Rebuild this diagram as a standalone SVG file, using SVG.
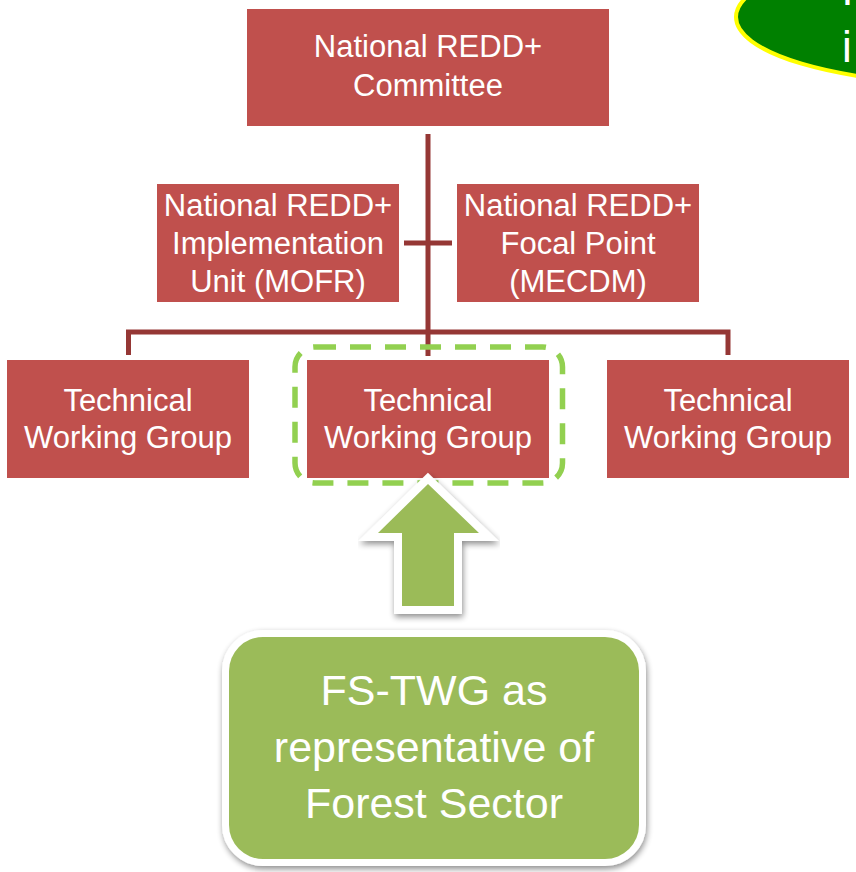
<svg xmlns="http://www.w3.org/2000/svg" width="856" height="872" viewBox="0 0 856 872">
  <defs>
    <style>
      .box { fill: #C0504D; }
      .lbl { font-family: "Liberation Sans", Arial, sans-serif; font-size: 31px; fill: #FFFFFF; text-anchor: middle; }
      .big { font-family: "Liberation Sans", Arial, sans-serif; font-size: 43px; fill: #FFFFFF; text-anchor: middle; }
      .conn { stroke: #953735; stroke-width: 5; fill: none; }
    </style>
    <filter id="shadow" x="-20%" y="-20%" width="140%" height="140%">
      <feGaussianBlur in="SourceAlpha" stdDeviation="3"/>
      <feOffset dx="1" dy="3" result="b"/>
      <feComponentTransfer><feFuncA type="linear" slope="0.45"/></feComponentTransfer>
      <feMerge><feMergeNode/><feMergeNode in="SourceGraphic"/></feMerge>
    </filter>
  </defs>
  <rect width="856" height="872" fill="#FFFFFF"/>

  <g id="callout-ellipse">
    <ellipse cx="960" cy="17" rx="224" ry="66" fill="#008000" stroke="#FFFF00" stroke-width="4"/>
    <text x="834" y="5" font-family="Liberation Sans, Arial, sans-serif" font-size="44" fill="#FFFFFF">T</text>
    <text x="842" y="62" font-family="Liberation Sans, Arial, sans-serif" font-size="44" fill="#FFFFFF">i</text>
  </g>

  <g id="connectors">
    <line class="conn" x1="428" y1="134" x2="428" y2="356"/>
    <line class="conn" x1="404" y1="243" x2="452" y2="243"/>
    <polyline class="conn" points="128.5,355 128.5,332 728,332 728,355"/>
  </g>

  <g id="committee">
    <rect class="box" x="247" y="9" width="362" height="117"/>
    <text class="lbl" x="428" y="57">National REDD+</text>
    <text class="lbl" x="428" y="96">Committee</text>
  </g>

  <g id="implementation-unit">
    <rect class="box" x="157" y="184" width="242" height="118"/>
    <text class="lbl" x="278" y="216">National REDD+</text>
    <text class="lbl" x="278" y="254">Implementation</text>
    <text class="lbl" x="278" y="292">Unit (MOFR)</text>
  </g>

  <g id="focal-point">
    <rect class="box" x="457" y="184" width="242" height="118"/>
    <text class="lbl" x="578" y="216">National REDD+</text>
    <text class="lbl" x="578" y="254">Focal Point</text>
    <text class="lbl" x="578" y="292">(MECDM)</text>
  </g>

  <g id="twg-left">
    <rect class="box" x="7" y="360" width="242" height="118"/>
    <text class="lbl" x="128" y="411">Technical</text>
    <text class="lbl" x="128" y="448">Working Group</text>
  </g>

  <g id="twg-middle">
    <rect class="box" x="307" y="360" width="242" height="118"/>
    <text class="lbl" x="428" y="411">Technical</text>
    <text class="lbl" x="428" y="448">Working Group</text>
  </g>

  <g id="twg-right">
    <rect class="box" x="607" y="360" width="242" height="118"/>
    <text class="lbl" x="728" y="411">Technical</text>
    <text class="lbl" x="728" y="448">Working Group</text>
  </g>

  <g id="highlight">
    <rect x="295" y="347" width="267.5" height="136" rx="20" ry="20" fill="none" stroke="#92D050" stroke-width="5.5" stroke-dasharray="21 14"/>
  </g>

  <g id="up-arrow" filter="url(#shadow)">
    <polygon points="428,484 479,533 454,533 454,606 402,606 402,533 378,533" fill="#FFFFFF" stroke="#FFFFFF" stroke-width="16" stroke-linejoin="miter"/>
    <polygon points="428,484 479,533 454,533 454,606 402,606 402,533 378,533" fill="#9BBB59"/>
  </g>

  <g id="fs-twg">
    <rect x="229" y="637" width="410" height="222" rx="34" ry="34" fill="#9BBB59" stroke="#FFFFFF" stroke-width="14" filter="url(#shadow)"/>
    <rect x="229" y="637" width="410" height="222" rx="34" ry="34" fill="#9BBB59"/>
    <text class="big" x="434" y="705">FS-TWG as</text>
    <text class="big" x="434" y="762">representative of</text>
    <text class="big" x="434" y="818">Forest Sector</text>
  </g>
</svg>
